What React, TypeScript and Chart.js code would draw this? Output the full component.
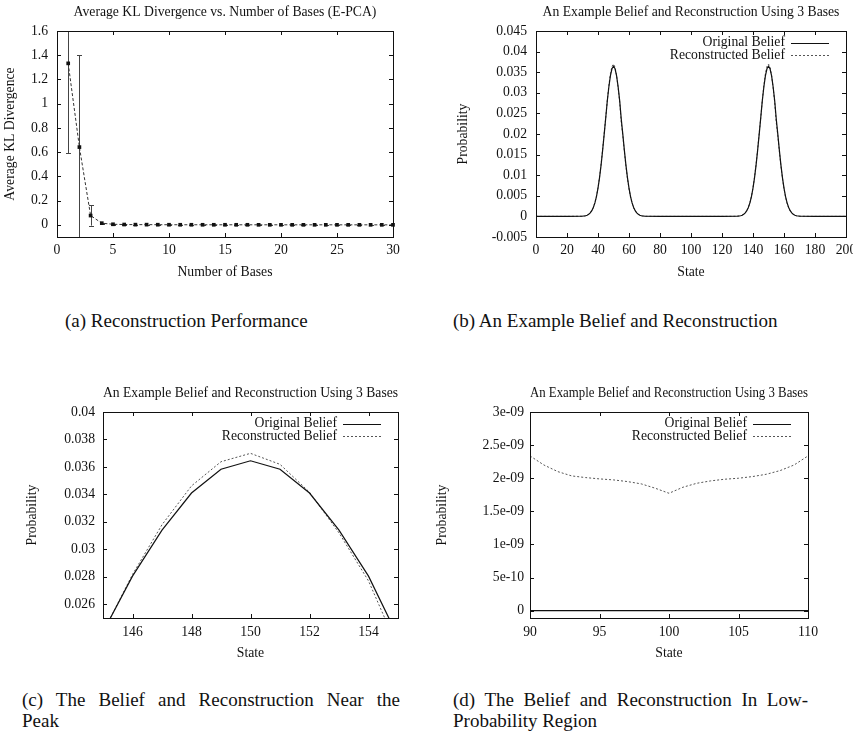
import React, { useEffect, useRef } from 'react';
import { Chart, registerables } from 'chart.js';

Chart.register(...registerables);

const FONT = '"Liberation Serif", "Times New Roman", serif';
const FS = 13.7;
const INK = '#111';

// ---------- (a) Reconstruction performance ----------
const numBases = [1, 2, 3, 4, 5, 6, 7, 8, 9, 10, 11, 12, 13, 14, 15, 16, 17, 18, 19, 20, 21, 22, 23, 24, 25, 26, 27, 28, 29, 30];
const avgKL = [1.333, 0.642, 0.077, 0.014, 0.005, 0.003, 0.002, 0.002, 0.0015, 0.0012, 0.001, 0.001, 0.0009, 0.0008, 0.0008, 0.0007, 0.0007, 0.0006, 0.0006, 0.0006, 0.0005, 0.0005, 0.0005, 0.0005, 0.0004, 0.0004, 0.0004, 0.0004, 0.0004, 0.0003];
const klErr = [0.74, 0.758, 0.083, 0.005, 0.002, 0.001, 0.001, 0.001, 0.001, 0.0008, 0.0008, 0.0007, 0.0007, 0.0006, 0.0006, 0.0005, 0.0005, 0.0005, 0.0005, 0.0004, 0.0004, 0.0004, 0.0004, 0.0004, 0.0003, 0.0003, 0.0003, 0.0003, 0.0003, 0.0003];
const klXTicks = [0, 5, 10, 15, 20, 25, 30];
const klXLabels = ['0', '5', '10', '15', '20', '25', '30'];
const klYTicks = [0, 0.2, 0.4, 0.6, 0.8, 1, 1.2, 1.4, 1.6];
const klYLabels = ['0', '0.2', '0.4', '0.6', '0.8', '1', '1.2', '1.4', '1.6'];

// ---------- belief and reconstruction (shared by b, c, d) ----------
const beliefStates = [
  0, 10, 20,
  30, 31, 32, 33, 34, 35, 36, 37, 38, 39, 40, 41, 42, 43, 44, 45, 46, 47, 48, 49, 50,
  51, 52, 53, 54, 55, 56, 57, 58, 59, 60, 61, 62, 63, 64, 65, 66, 67, 68, 69, 70,
  80,
  90, 91, 92, 93, 94, 95, 96, 97, 98, 99, 100, 101, 102, 103, 104, 105, 106, 107, 108, 109, 110,
  120,
  130, 131, 132, 133, 134, 135, 136, 137, 138, 139, 140, 141, 142, 143, 144, 145, 146, 147, 148, 149, 150,
  151, 152, 153, 154, 155, 156, 157, 158, 159, 160, 161, 162, 163, 164, 165, 166, 167, 168, 169, 170,
  180, 190, 200,
];
const originalBelief = [
  0, 0, 0,
  0.00005, 0.00009, 0.00016, 0.00029, 0.00051, 0.00085, 0.00138, 0.00216, 0.00328, 0.00482, 0.00685, 0.00942, 0.01251, 0.01608, 0.01997, 0.02398, 0.02805, 0.03140, 0.03410, 0.03583, 0.03645,
  0.03583, 0.03410, 0.03140, 0.02805, 0.02363, 0.01997, 0.01608, 0.01251, 0.00942, 0.00685, 0.00482, 0.00328, 0.00216, 0.00138, 0.00085, 0.00051, 0.00029, 0.00016, 0.00009, 0.00005,
  0,
  0, 0, 0, 0, 0, 0, 0, 0, 0, 0, 0, 0, 0, 0, 0, 0, 0, 0, 0, 0, 0,
  0,
  0.00005, 0.00009, 0.00016, 0.00029, 0.00051, 0.00085, 0.00138, 0.00216, 0.00328, 0.00482, 0.00685, 0.00942, 0.01251, 0.01608, 0.01997, 0.02398, 0.02805, 0.03140, 0.03410, 0.03583, 0.03645,
  0.03583, 0.03410, 0.03140, 0.02805, 0.02363, 0.01997, 0.01608, 0.01251, 0.00942, 0.00685, 0.00482, 0.00328, 0.00216, 0.00138, 0.00085, 0.00051, 0.00029, 0.00016, 0.00009, 0.00005,
  0, 0, 0,
];
const reconstructedBelief = [
  2.6e-9, 2.5e-9, 2.7e-9,
  0.00004, 0.00008, 0.00015, 0.00028, 0.0005, 0.00085, 0.00139, 0.00219, 0.00333, 0.0049, 0.00697, 0.00958, 0.01272, 0.01632, 0.02021, 0.02395, 0.02817, 0.03179, 0.03462, 0.03638, 0.03699,
  0.03619, 0.03416, 0.0312, 0.0277, 0.02279, 0.0196, 0.01578, 0.01225, 0.00921, 0.00668, 0.00469, 0.00318, 0.00209, 0.00133, 0.00082, 0.00049, 0.00028, 0.00015, 0.00008, 0.00004,
  2.9e-9,
  2.337e-9, 2.2e-9, 2.1e-9, 2.035e-9, 2.01e-9, 1.99e-9, 1.975e-9, 1.95e-9, 1.915e-9, 1.85e-9, 1.773e-9, 1.864e-9, 1.924e-9, 1.96e-9, 1.985e-9, 2.0e-9, 2.025e-9, 2.06e-9, 2.116e-9, 2.2e-9, 2.337e-9,
  2.9e-9,
  0.00004, 0.00008, 0.00015, 0.00028, 0.0005, 0.00085, 0.00139, 0.00219, 0.00333, 0.0049, 0.00697, 0.00958, 0.01272, 0.01632, 0.02021, 0.02395, 0.02817, 0.03179, 0.03462, 0.03638, 0.03699,
  0.03619, 0.03416, 0.0312, 0.0277, 0.02279, 0.0196, 0.01578, 0.01225, 0.00921, 0.00668, 0.00469, 0.00318, 0.00209, 0.00133, 0.00082, 0.00049, 0.00028, 0.00015, 0.00008, 0.00004,
  2.7e-9, 2.5e-9, 2.6e-9,
];
const seriesNames = ['Original Belief', 'Reconstructed Belief'];

const fullXTicks = [0, 20, 40, 60, 80, 100, 120, 140, 160, 180, 200];
const fullXLabels = ['0', '20', '40', '60', '80', '100', '120', '140', '160', '180', '200'];
const fullYTicks = [-0.005, 0, 0.005, 0.01, 0.015, 0.02, 0.025, 0.03, 0.035, 0.04, 0.045];
const fullYLabels = ['-0.005', '0', '0.005', '0.01', '0.015', '0.02', '0.025', '0.03', '0.035', '0.04', '0.045'];

const peakXTicks = [146, 148, 150, 152, 154];
const peakXLabels = ['146', '148', '150', '152', '154'];
const peakYTicks = [0.026, 0.028, 0.03, 0.032, 0.034, 0.036, 0.038, 0.04];
const peakYLabels = ['0.026', '0.028', '0.03', '0.032', '0.034', '0.036', '0.038', '0.04'];

const lowXTicks = [90, 95, 100, 105, 110];
const lowXLabels = ['90', '95', '100', '105', '110'];
const lowYTicks = [0, 5e-10, 1e-9, 1.5e-9, 2e-9, 2.5e-9, 3e-9];
const lowYLabels = ['0', '5e-10', '1e-09', '1.5e-09', '2e-09', '2.5e-09', '3e-09'];

const plotTitleA = 'Average KL Divergence vs. Number of Bases (E-PCA)';
const plotTitleB = 'An Example Belief and Reconstruction Using 3 Bases';

// ---------- plugins ----------
const framePlugin = {
  id: 'gnuFrame',
  afterDatasetsDraw(chart: any) {
    const { ctx, chartArea: a, scales } = chart;
    const L = 4;
    ctx.save();
    ctx.strokeStyle = INK;
    ctx.lineWidth = 1;
    ctx.beginPath();
    for (const t of scales.x.ticks) {
      const px = Math.round(scales.x.getPixelForValue(t.value)) + 0.5;
      if (px < a.left - 0.5 || px > a.right + 0.5) continue;
      ctx.moveTo(px, a.bottom); ctx.lineTo(px, a.bottom - L);
      ctx.moveTo(px, a.top); ctx.lineTo(px, a.top + L);
    }
    for (const t of scales.y.ticks) {
      const py = Math.round(scales.y.getPixelForValue(t.value)) + 0.5;
      if (py < a.top - 0.5 || py > a.bottom + 0.5) continue;
      ctx.moveTo(a.left, py); ctx.lineTo(a.left + L, py);
      ctx.moveTo(a.right, py); ctx.lineTo(a.right - L, py);
    }
    ctx.stroke();
    ctx.strokeRect(Math.round(a.left) + 0.5, Math.round(a.top) + 0.5, Math.round(a.right - a.left), Math.round(a.bottom - a.top));
    ctx.restore();
  },
};

const keyPlugin = {
  id: 'gnuKey',
  afterDatasetsDraw(chart: any, _args: any, opts: any) {
    if (!opts || !opts.show) return;
    const { ctx, chartArea: a } = chart;
    const sampleEnd = a.right - 17;
    const sampleStart = sampleEnd - 38;
    const textEnd = sampleStart - 6;
    ctx.save();
    ctx.font = `${FS}px ${FONT}`;
    ctx.textAlign = 'right';
    ctx.textBaseline = 'middle';
    chart.data.datasets.forEach((ds: any, i: number) => {
      const y = a.top + 11.5 + i * 12.5;
      ctx.fillStyle = INK;
      ctx.fillText(ds.label, textEnd, y);
      ctx.beginPath();
      ctx.strokeStyle = ds.borderColor;
      ctx.lineWidth = ds.borderWidth;
      ctx.setLineDash(ds.borderDash || []);
      ctx.moveTo(sampleStart, Math.round(y) + 0.5);
      ctx.lineTo(sampleEnd, Math.round(y) + 0.5);
      ctx.stroke();
    });
    ctx.restore();
  },
};

const errorBarPlugin = {
  id: 'errorBars',
  beforeDatasetsDraw(chart: any, _args: any, opts: any) {
    if (!opts || !opts.xs) return;
    const { ctx, chartArea: a, scales } = chart;
    ctx.save();
    ctx.beginPath();
    ctx.rect(a.left, a.top, a.right - a.left, a.bottom - a.top);
    ctx.clip();
    ctx.strokeStyle = '#444';
    ctx.lineWidth = 1;
    ctx.beginPath();
    opts.xs.forEach((xv: number, i: number) => {
      const x = Math.round(scales.x.getPixelForValue(xv)) + 0.5;
      const lo = scales.y.getPixelForValue(opts.ys[i] - opts.errs[i]);
      const hi = scales.y.getPixelForValue(opts.ys[i] + opts.errs[i]);
      ctx.moveTo(x, lo); ctx.lineTo(x, hi);
      ctx.moveTo(x - 2.5, Math.round(lo) + 0.5); ctx.lineTo(x + 2.5, Math.round(lo) + 0.5);
      ctx.moveTo(x - 2.5, Math.round(hi) + 0.5); ctx.lineTo(x + 2.5, Math.round(hi) + 0.5);
    });
    ctx.stroke();
    ctx.restore();
  },
};

// ---------- chart specs ----------
type Box = { x: number; y: number; w: number; h: number };
type Area = { l: number; t: number; r: number; b: number };
interface Spec {
  box: Box; area: Area;
  title: string; titleY: number;
  xTitle: string; xTitleY: number; yTitle: string; yTitleX: number;
  xMin: number; xMax: number; yMin: number; yMax: number;
  xTicks: number[]; xLabels: string[]; yTicks: number[]; yLabels: string[];
  xLabelPad: number; yLabelPad: number;
  datasets: any[]; key: boolean; errors?: any;
}

function beliefDatasets() {
  return [
    {
      label: seriesNames[0],
      data: beliefStates.map((s, i) => ({ x: s, y: originalBelief[i] })),
      borderColor: '#111', borderWidth: 1.2, pointRadius: 0, tension: 0,
    },
    {
      label: seriesNames[1],
      data: beliefStates.map((s, i) => ({ x: s, y: reconstructedBelief[i] })),
      borderColor: '#555', borderWidth: 1, borderDash: [2, 2], pointRadius: 0, tension: 0,
    },
  ];
}

const specA: Spec = {
  box: { x: 0, y: 0, w: 425, h: 290 }, area: { l: 57, t: 31, r: 393, b: 237 },
  title: plotTitleA, titleY: 12,
  xTitle: 'Number of Bases', xTitleY: 272, yTitle: 'Average KL Divergence', yTitleX: 10,
  xMin: 0, xMax: 30, yMin: -0.1, yMax: 1.6,
  xTicks: klXTicks, xLabels: klXLabels, yTicks: klYTicks, yLabels: klYLabels,
  xLabelPad: 5, yLabelPad: 9,
  datasets: [{
    label: 'KL',
    data: numBases.map((n, i) => ({ x: n, y: avgKL[i] })),
    borderColor: '#333', borderWidth: 1, borderDash: [3, 2], tension: 0,
    pointStyle: 'rect', pointRadius: 2.6, pointBackgroundColor: '#111', pointBorderColor: '#111', pointBorderWidth: 0,
    clip: 5,
  }],
  key: false,
  errors: { xs: numBases, ys: avgKL, errs: klErr },
};

const specB: Spec = {
  box: { x: 430, y: 0, w: 423, h: 290 }, area: { l: 536, t: 31, r: 846, b: 237 },
  title: plotTitleB, titleY: 12,
  xTitle: 'State', xTitleY: 272, yTitle: 'Probability', yTitleX: 463,
  xMin: 0, xMax: 200, yMin: -0.005, yMax: 0.045,
  xTicks: fullXTicks, xLabels: fullXLabels, yTicks: fullYTicks, yLabels: fullYLabels,
  xLabelPad: 5, yLabelPad: 9,
  datasets: beliefDatasets(), key: true,
};

const specC: Spec = {
  box: { x: 0, y: 370, w: 425, h: 300 }, area: { l: 103, t: 412, r: 398, b: 618 },
  title: plotTitleB, titleY: 393,
  xTitle: 'State', xTitleY: 653, yTitle: 'Probability', yTitleX: 32,
  xMin: 145, xMax: 155, yMin: 0.025, yMax: 0.04,
  xTicks: peakXTicks, xLabels: peakXLabels, yTicks: peakYTicks, yLabels: peakYLabels,
  xLabelPad: 6.5, yLabelPad: 8,
  datasets: beliefDatasets(), key: true,
};

const specD: Spec = {
  box: { x: 430, y: 370, w: 423, h: 300 }, area: { l: 530, t: 412, r: 808, b: 618 },
  title: plotTitleB, titleY: 393,
  xTitle: 'State', xTitleY: 653, yTitle: 'Probability', yTitleX: 442,
  xMin: 90, xMax: 110, yMin: -1.1e-10, yMax: 3e-9,
  xTicks: lowXTicks, xLabels: lowXLabels, yTicks: lowYTicks, yLabels: lowYLabels,
  xLabelPad: 6.5, yLabelPad: 6,
  datasets: beliefDatasets(), key: true,
};

function buildConfig(s: Spec): any {
  const lh = FS * 1.2;
  const relTop = s.area.t - s.box.y;
  const tPadTop = s.titleY - s.box.y - lh / 2;
  const tPadBottom = relTop - tPadTop - lh;
  const yAxisW = s.area.l - s.box.x;
  const xAxisH = s.box.y + s.box.h - s.area.b;
  const font = { family: FONT, size: FS, weight: 'normal' as const };
  return {
    type: 'line',
    data: { datasets: s.datasets },
    options: {
      responsive: false,
      animation: false,
      devicePixelRatio: 1,
      events: [],
      layout: { padding: { top: 0, left: 0, bottom: 0, right: s.box.x + s.box.w - s.area.r } },
      plugins: {
        legend: { display: false },
        tooltip: { enabled: false },
        title: {
          display: true, text: s.title, fullSize: false, color: INK, font,
          padding: { top: tPadTop, bottom: tPadBottom },
        },
        gnuKey: { show: s.key },
        errorBars: s.errors || {},
      },
      scales: {
        x: {
          type: 'linear', min: s.xMin, max: s.xMax,
          grid: { display: false, drawTicks: false },
          border: { display: false },
          title: {
            display: true, text: s.xTitle, color: INK, font,
            padding: { top: 0, bottom: s.box.y + s.box.h - s.xTitleY - lh / 2 },
          },
          ticks: {
            autoSkip: false, maxRotation: 0, minRotation: 0, padding: s.xLabelPad, color: INK, font,
            callback: (_v: any, i: number) => s.xLabels[i],
          },
          afterBuildTicks: (sc: any) => { sc.ticks = s.xTicks.map((v) => ({ value: v })); },
          afterFit: (sc: any) => { sc.height = xAxisH; sc.paddingLeft = 0; sc.paddingRight = 0; sc.paddingTop = 0; sc.paddingBottom = 0; },
        },
        y: {
          type: 'linear', min: s.yMin, max: s.yMax,
          grid: { display: false, drawTicks: false },
          border: { display: false },
          title: {
            display: true, text: s.yTitle, color: INK, font,
            padding: { top: s.yTitleX - s.box.x - lh / 2, bottom: 0 },
          },
          ticks: {
            autoSkip: false, padding: s.yLabelPad, color: INK, font,
            callback: (_v: any, i: number) => s.yLabels[i],
          },
          afterBuildTicks: (sc: any) => { sc.ticks = s.yTicks.map((v) => ({ value: v })); },
          afterFit: (sc: any) => { sc.width = yAxisW; sc.paddingLeft = 0; sc.paddingRight = 0; sc.paddingTop = 0; sc.paddingBottom = 0; },
        },
      },
    },
    plugins: [framePlugin, keyPlugin, errorBarPlugin],
  };
}

function GnuChart({ spec }: { spec: Spec }) {
  const ref = useRef<HTMLCanvasElement>(null);
  useEffect(() => {
    const chart = new Chart(ref.current as HTMLCanvasElement, buildConfig(spec));
    return () => chart.destroy();
  }, [spec]);
  return (
    <canvas
      ref={ref}
      width={spec.box.w}
      height={spec.box.h}
      style={{ position: 'absolute', left: spec.box.x, top: spec.box.y, width: spec.box.w, height: spec.box.h }}
    />
  );
}

const capFont: React.CSSProperties = {
  position: 'absolute', fontFamily: FONT, fontSize: 19, lineHeight: '20px', color: '#111', whiteSpace: 'nowrap',
};

export default function App() {
  return (
    <div style={{ position: 'fixed', left: 0, top: 0, width: 853, height: 733, background: '#fff', overflow: 'hidden' }}>
      <GnuChart spec={specA} />
      <GnuChart spec={specB} />
      <GnuChart spec={specC} />
      <GnuChart spec={specD} />
      <div style={{ ...capFont, left: 65, top: 311 }}>(a) Reconstruction Performance</div>
      <div style={{ ...capFont, left: 453, top: 311 }}>(b) An Example Belief and Reconstruction</div>
      <div style={{ ...capFont, left: 22, top: 690, width: 378, textAlign: 'justify', textAlignLast: 'justify' }}>(c) The Belief and Reconstruction Near the</div>
      <div style={{ ...capFont, left: 22, top: 711 }}>Peak</div>
      <div style={{ ...capFont, left: 453, top: 690, width: 355, textAlign: 'justify', textAlignLast: 'justify' }}>(d) The Belief and Reconstruction In Low-</div>
      <div style={{ ...capFont, left: 453, top: 711 }}>Probability Region</div>
    </div>
  );
}
